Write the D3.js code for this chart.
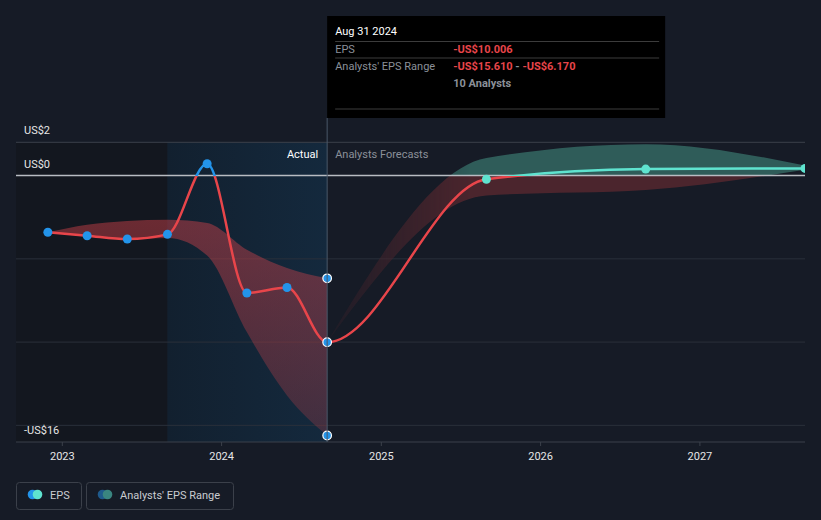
<!DOCTYPE html>
<html lang="en">
  <head>
    <meta charset="utf-8">
    <title>EPS: actual vs analysts forecasts</title>
    <script src="https://unpkg.com/d3@7/dist/d3.min.js"></script>
    <style type="text/css">
body,html{
    margin: 0;
    padding: 0;
    background: #161b26;
    font-family: "Roboto", "Noto Sans", sans-serif;
  }
    </style>
  </head>
  <body>
    <script type="text/javascript">
      const w = 821;
      const h = 520;

      // actual EPS (quarterly, trailing)
      const histDates = ["2022-11-30", "2023-02-28", "2023-05-31", "2023-08-31", "2023-11-30", "2024-02-29", "2024-05-31", "2024-08-31"];
      const histEps = [-3.40, -3.61, -3.81, -3.53, 0.71, -7.05, -6.72, -10.006];
      const histLow = [-3.40, -3.65, -3.80, -3.75, -4.80, -9.40, -13.20, -15.61];
      const histHigh = [-3.40, -2.95, -2.72, -2.65, -2.85, -4.45, -5.55, -6.17];

      // analysts forecasts
      const fcDates = ["2024-08-31", "2025-08-31", "2026-08-31", "2027-08-31"];
      const fcEps = [-10.006, -0.22, 0.39, 0.43];
      const fcLow = [-10.006, -1.20, -0.87, 0.35];
      const fcHigh = [-10.006, 1.05, 1.89, 0.60];

      const yGrid = [2, 0, -5, -10, -15, -16];
      const yLabels = [2, 0, -16];
      const yLabelText = ["US$2", "US$0", "-US$16"];
      const xTickYears = [2023, 2024, 2025, 2026, 2027];

      const parse = d3.timeParse("%Y-%m-%d");

      const x = d3.scaleTime()
        .domain([parse("2022-09-18"), parse("2027-08-31")])
        .range([16, 805]);

      const y = d3.scaleLinear()
        .domain([-16, 2])
        .range([442, 142.3]);

      const red = "#e8454a";
      const blue = "#2394ea";
      const cyan = "#5fe3cf";
      const splitX = x(parse("2024-08-31"));

      const svg = d3.select("body")
        .append("svg")
        .attr("width", w)
        .attr("height", h)
        .style("display", "block");

      const defs = svg.append("defs");

      defs.append("clipPath").attr("id", "plot")
        .append("rect").attr("x", 16).attr("y", 0).attr("width", 789).attr("height", 442);
      defs.append("clipPath").attr("id", "past")
        .append("rect").attr("x", 0).attr("y", 0).attr("width", splitX).attr("height", 442);
      defs.append("clipPath").attr("id", "future")
        .append("rect").attr("x", splitX).attr("y", 0).attr("width", 805 - splitX).attr("height", 442);

      // colour by sign, hard stop at the zero line
      function signGradient(id, above, below) {
        const g = defs.append("linearGradient").attr("id", id)
          .attr("gradientUnits", "userSpaceOnUse")
          .attr("x1", 0).attr("x2", 0).attr("y1", y(2)).attr("y2", y(-16));
        const t = (y(0) - y(2)) / (y(-16) - y(2));
        g.append("stop").attr("offset", t).attr("stop-color", above);
        g.append("stop").attr("offset", t).attr("stop-color", below);
      }
      signGradient("lineHist", blue, red);
      signGradient("lineFc", cyan, red);
      signGradient("bandFc", "#2f5c59", "#4b252d");

      const bandHistGrad = defs.append("linearGradient").attr("id", "bandHist")
        .attr("gradientUnits", "userSpaceOnUse")
        .attr("x1", 0).attr("x2", 0).attr("y1", 215).attr("y2", 440);
      bandHistGrad.append("stop").attr("offset", 0).attr("stop-color", "#d9434b").attr("stop-opacity", 0.45);
      bandHistGrad.append("stop").attr("offset", 1).attr("stop-color", "#d9434b").attr("stop-opacity", 0.22);

      const pastGrad = defs.append("linearGradient").attr("id", "pastShade")
        .attr("x1", 0).attr("x2", 1).attr("y1", 0).attr("y2", 0);
      pastGrad.append("stop").attr("offset", 0).attr("stop-color", "#12202f");
      pastGrad.append("stop").attr("offset", 1).attr("stop-color", "#14293d");

      const fadeGrad = defs.append("linearGradient").attr("id", "fade")
        .attr("gradientUnits", "userSpaceOnUse")
        .attr("x1", splitX).attr("x2", 470).attr("y1", 0).attr("y2", 0);
      fadeGrad.append("stop").attr("offset", 0).attr("stop-color", "#fff").attr("stop-opacity", 0.15);
      fadeGrad.append("stop").attr("offset", 1).attr("stop-color", "#fff").attr("stop-opacity", 1);
      defs.append("mask").attr("id", "fadeMask")
        .attr("maskUnits", "userSpaceOnUse")
        .attr("x", 0).attr("y", 0).attr("width", w).attr("height", h)
        .append("rect").attr("x", 0).attr("y", 0).attr("width", w).attr("height", h)
        .attr("fill", "url(#fade)");

      // background shading of the past
      const oneYearAgo = x(parse("2023-08-31"));
      svg.append("rect")
        .attr("x", 16).attr("y", y(2))
        .attr("width", oneYearAgo - 16).attr("height", y(-16) - y(2))
        .attr("fill", "#13171f");
      svg.append("rect")
        .attr("x", oneYearAgo).attr("y", y(2))
        .attr("width", splitX - oneYearAgo).attr("height", y(-16) - y(2))
        .attr("fill", "url(#pastShade)");

      // grid
      svg.selectAll("line.grid")
        .data(yGrid.filter(v => v !== 0))
        .enter()
        .append("line")
        .attr("class", "grid")
        .attr("x1", 16).attr("x2", 805)
        .attr("y1", d => y(d)).attr("y2", d => y(d))
        .attr("stroke", d => (d === 2 || d === -16) ? "#3b404a" : "#2a303a")
        .attr("stroke-width", 1);

      // x axis
      const xAxis = d3.axisBottom(x)
        .tickValues(xTickYears.map(yr => new Date(yr, 0, 1)))
        .tickFormat(d3.timeFormat("%Y"))
        .tickSize(4)
        .tickPadding(6);
      const gx = svg.append("g")
        .attr("transform", "translate(0," + y(-16) + ")")
        .call(xAxis);
      gx.select(".domain").remove();
      gx.selectAll(".tick line").attr("stroke", "#3b404a");
      gx.selectAll(".tick text")
        .attr("fill", "#e6e6e6")
        .style("font-size", "11px")
        .style("font-family", "Roboto");

      // y labels
      svg.selectAll("text.ylab")
        .data(yLabels)
        .enter()
        .append("text")
        .attr("class", "ylab")
        .attr("x", 24)
        .attr("y", d => y(d) - 8)
        .attr("fill", "#e6e6e6")
        .style("font-size", "11px")
        .text((d, i) => yLabelText[i]);

      const hist = histDates.map((d, i) => ({date: parse(d), eps: histEps[i], low: histLow[i], high: histHigh[i]}));
      const fc = fcDates.map((d, i) => ({date: parse(d), eps: fcEps[i], low: fcLow[i], high: fcHigh[i]}));
      const all = hist.concat(fc.slice(1));

      const area = d3.area()
        .curve(d3.curveMonotoneX)
        .x(d => x(d.date))
        .y0(d => y(d.low))
        .y1(d => y(d.high));

      const line = d3.line()
        .curve(d3.curveMonotoneX)
        .x(d => x(d.date))
        .y(d => y(d.eps));

      const plot = svg.append("g").attr("clip-path", "url(#plot)");

      plot.append("path")
        .datum(hist)
        .attr("d", area)
        .attr("fill", "url(#bandHist)");

      plot.append("path")
        .datum(fc)
        .attr("d", area)
        .attr("fill", "url(#bandFc)")
        .attr("mask", "url(#fadeMask)");

      // zero line
      plot.append("line")
        .attr("x1", 16).attr("x2", 805)
        .attr("y1", y(0)).attr("y2", y(0))
        .attr("stroke", "#b8bcc2")
        .attr("stroke-width", 1.5);

      plot.append("path")
        .datum(all)
        .attr("d", line)
        .attr("fill", "none")
        .attr("stroke", "url(#lineHist)")
        .attr("stroke-width", 2.5)
        .attr("clip-path", "url(#past)");

      const fcLineG = plot.append("g").attr("clip-path", "url(#future)");
      fcLineG.append("path")
        .datum(all)
        .attr("d", line)
        .attr("fill", "none")
        .attr("stroke", "url(#lineFc)")
        .attr("stroke-width", 2.5);

      // "today" marker line
      svg.append("line")
        .attr("x1", splitX).attr("x2", splitX)
        .attr("y1", 118).attr("y2", y(-16))
        .attr("stroke", "#4a5868")
        .attr("stroke-width", 1);

      svg.append("text")
        .attr("x", splitX - 9).attr("y", 158)
        .attr("text-anchor", "end")
        .attr("fill", "#ffffff")
        .style("font-size", "11px")
        .text("Actual");
      svg.append("text")
        .attr("x", splitX + 8).attr("y", 158)
        .attr("fill", "#8b9099")
        .style("font-size", "11px")
        .text("Analysts Forecasts");

      // points
      plot.selectAll("circle.hist")
        .data(hist.slice(0, hist.length - 1))
        .enter()
        .append("circle")
        .attr("class", "hist")
        .attr("cx", d => x(d.date))
        .attr("cy", d => y(d.eps))
        .attr("r", 4.5)
        .attr("fill", blue);

      const last = hist[hist.length - 1];
      plot.selectAll("circle.last")
        .data([last.high, last.eps, last.low])
        .enter()
        .append("circle")
        .attr("class", "last")
        .attr("cx", x(last.date))
        .attr("cy", d => y(d))
        .attr("r", 4.3)
        .attr("fill", blue)
        .attr("stroke", "#ffffff")
        .attr("stroke-width", 1.2);

      plot.selectAll("circle.fc")
        .data(fc.slice(1))
        .enter()
        .append("circle")
        .attr("class", "fc")
        .attr("cx", d => x(d.date))
        .attr("cy", d => y(d.eps))
        .attr("r", 4.5)
        .attr("fill", cyan);

      // tooltip
      const tip = svg.append("g").attr("transform", "translate(" + splitX + ",16)");
      tip.append("rect")
        .attr("width", 338).attr("height", 102)
        .attr("fill", "#000000");
      tip.append("text")
        .attr("x", 8).attr("y", 19)
        .attr("fill", "#ffffff")
        .style("font-size", "11px")
        .text("Aug 31 2024");
      [25.5, 42, 93].forEach(yy => {
        tip.append("line")
          .attr("x1", 8).attr("x2", 332)
          .attr("y1", yy).attr("y2", yy)
          .attr("stroke", "#3c3c3c")
          .attr("stroke-width", 1);
      });
      tip.append("text").attr("x", 8).attr("y", 37)
        .attr("fill", "#8b9099").style("font-size", "11px").text("EPS");
      tip.append("text").attr("x", 126).attr("y", 37)
        .attr("fill", red).style("font-size", "11px").style("font-weight", "bold")
        .text("-US$" + Math.abs(last.eps).toFixed(3));
      tip.append("text").attr("x", 8).attr("y", 54)
        .attr("fill", "#8b9099").style("font-size", "11px").text("Analysts' EPS Range");
      const rangeText = tip.append("text").attr("x", 126).attr("y", 54)
        .style("font-size", "11px").style("font-weight", "bold");
      rangeText.append("tspan").attr("fill", red).text("-US$" + Math.abs(last.low).toFixed(3));
      rangeText.append("tspan").attr("fill", "#8b9099").text(" - ");
      rangeText.append("tspan").attr("fill", red).text("-US$" + Math.abs(last.high).toFixed(3));
      tip.append("text").attr("x", 126).attr("y", 71)
        .attr("fill", "#8b9099").style("font-size", "11px").style("font-weight", "bold")
        .text("10 Analysts");

      // legend
      const legend = [
        {label: "EPS", c1: blue, c2: cyan, x: 16, w: 65},
        {label: "Analysts' EPS Range", c1: "#1f5a8c", c2: "#3a8580", x: 86, w: 147}
      ];
      const lg = svg.selectAll("g.legend")
        .data(legend)
        .enter()
        .append("g")
        .attr("class", "legend")
        .attr("transform", d => "translate(" + d.x + ",482)");
      lg.append("rect")
        .attr("x", 0.5).attr("y", 0.5)
        .attr("width", d => d.w).attr("height", 27)
        .attr("rx", 3)
        .attr("fill", "none")
        .attr("stroke", "#3b404a");
      lg.append("circle").attr("cx", 16.5).attr("cy", 12.5).attr("r", 4.8).attr("fill", d => d.c1);
      lg.append("circle").attr("cx", 21.5).attr("cy", 12.5).attr("r", 4.8).attr("fill", d => d.c2);
      lg.append("text")
        .attr("x", 34).attr("y", 16.5)
        .attr("fill", "#c9ccd1")
        .style("font-size", "11px")
        .text(d => d.label);
    </script>
  </body>
</html>
